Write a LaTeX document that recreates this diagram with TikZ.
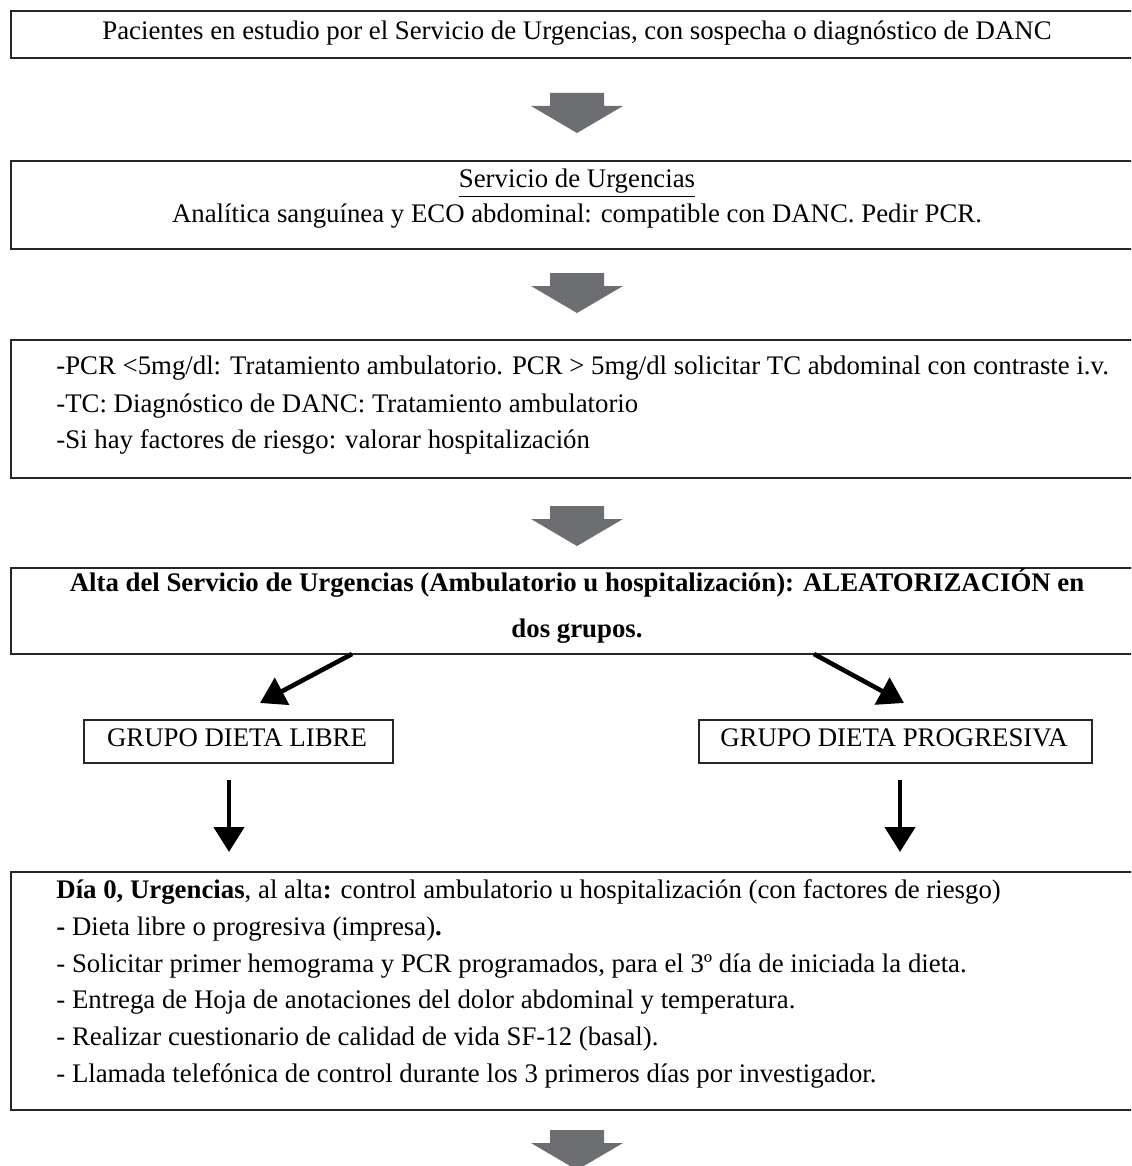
\documentclass[tikz,border=0pt]{standalone}
\usepackage{fontspec}
\setmainfont{Liberation Serif}
\usetikzlibrary{arrows.meta}
\definecolor{fatgray}{HTML}{6D6E71}
\begin{document}
\begin{tikzpicture}[x=0.5pt,y=-0.5pt,
  box/.style={draw=black!85, line width=0.9pt, rectangle, inner sep=0pt, anchor=north west},
  txt/.style={anchor=base, inner sep=0pt, font=\fontsize{13.4}{16}\selectfont},
  ltxt/.style={anchor=base west, inner sep=0pt, font=\fontsize{13.4}{16}\selectfont},
  arr/.style={-{Triangle[length=12.5pt,width=15pt]}, line width=2.3pt},
  fat/.pic={\fill[fatgray] (-27,0) -- (27,0) -- (27,13) -- (46,13) -- (0,40) -- (-46,13) -- (-27,13) -- cycle;}
]
\useasboundingbox (0,0) rectangle (1131,1166);
\clip (0,0) rectangle (1131,1166);

% boxes
\node[box, minimum width=567pt, minimum height=23.5pt] (b1) at (10,10) {};
\node[box, minimum width=567pt, minimum height=44pt] (b2) at (10,160) {};
\node[box, minimum width=567pt, minimum height=69pt] (b3) at (10,339) {};
\node[box, minimum width=567pt, minimum height=43pt] (b4) at (10,567) {};
\node[box, minimum width=154.5pt, minimum height=21.5pt] (g1) at (83,719) {};
\node[box, minimum width=196.5pt, minimum height=21.5pt] (g2) at (698,719) {};
\node[box, minimum width=567pt, minimum height=119pt] (b5) at (10,871) {};

% texts
\node[txt] (t1) at (577,40) {Pacientes en estudio por el Servicio de Urgencias, con sospecha o diagnóstico de DANC};
\node[txt] (t2a) at (577,188) {\underline{Servicio de Urgencias}};
\node[txt] (t2b) at (577,223) {Analítica sanguínea y ECO abdominal: compatible con DANC. Pedir PCR.};
\node[ltxt] (t3a) at (56,374) {-PCR <5mg/dl: Tratamiento ambulatorio. PCR > 5mg/dl solicitar TC abdominal con contraste i.v.};
\node[ltxt] (t3b) at (56,412) {-TC: Diagnóstico de DANC: Tratamiento ambulatorio};
\node[ltxt] (t3c) at (56,448) {-Si hay factores de riesgo: valorar hospitalización};
\node[txt] (t4a) at (577,591) {\bfseries Alta del Servicio de Urgencias (Ambulatorio u hospitalización): ALEATORIZACIÓN en};
\node[txt] (t4b) at (577,637) {\bfseries dos grupos.};
\node[txt] (tg1) at (237,746) {GRUPO DIETA LIBRE};
\node[txt] (tg2) at (894,746) {GRUPO DIETA PROGRESIVA};
\node[ltxt] (t5a) at (56,898) {\textbf{Día 0, Urgencias}, al alta\textbf{:} control ambulatorio u hospitalización (con factores de riesgo)};
\node[ltxt] (t5b) at (56,935) {\textbf{-} Dieta libre o progresiva (impresa)\textbf{.}};
\node[ltxt] (t5c) at (56,972) {- Solicitar primer hemograma y PCR programados, para el 3º día de iniciada la dieta.};
\node[ltxt] (t5d) at (56,1008) {- Entrega de Hoja de anotaciones del dolor abdominal y temperatura.};
\node[ltxt] (t5e) at (56,1045) {- Realizar cuestionario de calidad de vida SF-12 (basal).};
\node[ltxt] (t5f) at (56,1082) {- Llamada telefónica de control durante los 3 primeros días por investigador.};

% fat arrows
\pic at (577,93) {fat};
\pic at (577,273) {fat};
\pic at (577,506) {fat};
\pic at (577,1130) {fat};

% thin arrows
\coordinate (d1s) at (352,654);
\coordinate (d1e) at (260,703);
\coordinate (d2s) at (814,654);
\coordinate (d2e) at (904,703);
\coordinate (v1s) at (229,780);
\coordinate (v1e) at (229,852);
\coordinate (v2s) at (900,780);
\coordinate (v2e) at (900,852);
\draw[arr] (d1s) -- (d1e);
\draw[arr] (d2s) -- (d2e);
\draw[arr] (v1s) -- (v1e);
\draw[arr] (v2s) -- (v2e);
\end{tikzpicture}
\end{document}
